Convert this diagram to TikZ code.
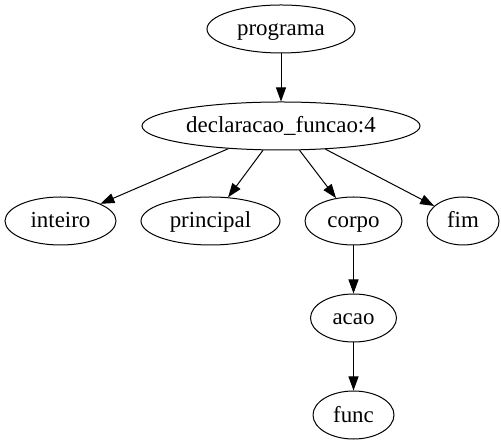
\documentclass[tikz,border=0pt]{standalone}
\usepackage{fontspec}
\setmainfont{Liberation Serif}
\usetikzlibrary{positioning}
\usetikzlibrary{shapes.geometric}
\usetikzlibrary{arrows.meta}
\tikzset{
	vertex/.style={draw, ellipse, inner sep=0pt, minimum height=48bp, line width=1bp, text height=19bp, text depth=5bp, font=\fontsize{23}{27}\selectfont},
}
\begin{document}
\begin{tikzpicture}[x=1bp, y=1bp]
			\useasboundingbox (0,0) rectangle (501,443);
			
			\node (prog) [vertex, minimum width=148bp] at (281,414) {programa};
			\node (decl) [vertex, minimum width=278bp, below=48bp of prog] {declaracao\_funcao:4};
			
			\node (int) [vertex, minimum width=111bp] at (60.5,222) {inteiro};
			\node (princ) [vertex, minimum width=139bp, right=24bp of int] {principal};
			\node (corpo) [vertex, minimum width=97bp, right=24bp of princ] {corpo};
			\node (fim) [vertex, minimum width=72bp, right=24bp of corpo] {fim};
			
			\node (acao) [vertex, minimum width=86bp, below=48bp of corpo] {acao};
			\node (func) [vertex, minimum width=81bp, below=48bp of acao] {func};
			
			\begin{scope}[line width=1bp, black, ->, >={Triangle[length=14bp, width=10bp]}]
				\draw (prog) -- (decl);
				
				\draw (decl) -- (int);
				\draw (decl) -- (princ);
				\draw (decl) -- (corpo);
				\draw (decl) -- (fim);
				
				\draw (corpo) -- (acao);
				\draw (acao) -- (func);
			\end{scope}
			
\end{tikzpicture}
\end{document}
